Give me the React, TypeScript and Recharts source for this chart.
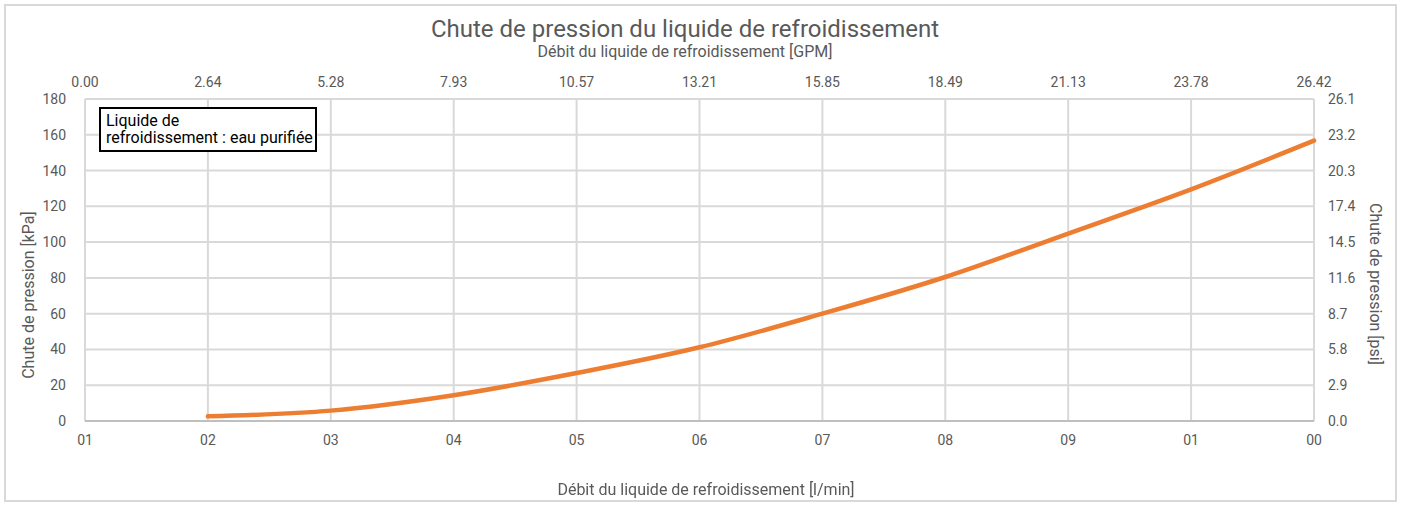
import React from 'react';
import { LineChart, Line, XAxis, YAxis, CartesianGrid } from 'recharts';

const flowLpm = [10, 20, 30, 40, 50, 60, 70, 80, 90, 100];
const dropKpa = [2.6, 5.8, 14.4, 26.8, 41.2, 60, 80.5, 104.8, 129.5, 156.7];

const lpmTicks = [0, 10, 20, 30, 40, 50, 60, 70, 80, 90, 100];
const lpmTickLabels = ['01', '02', '03', '04', '05', '06', '07', '08', '09', '01', '00'];
const gpmTickLabels = ['0.00', '2.64', '5.28', '7.93', '10.57', '13.21', '15.85', '18.49', '21.13', '23.78', '26.42'];
const kpaTicks = [0, 20, 40, 60, 80, 100, 120, 140, 160, 180];
const psiTicks = [0, 2.9, 5.8, 8.7, 11.6, 14.5, 17.4, 20.3, 23.2, 26.1];

const data = flowLpm.map((x, i) => ({ lpm: x, kpa: dropKpa[i] }));

const FONT = 'Roboto, "Noto Sans", sans-serif';
const TXT = '#595959';

export default function App() {
  const tickStyle = { fill: TXT, fontSize: 14, fontFamily: FONT };
  return (
    <div style={{ position: 'fixed', left: 0, top: 0, width: 1405, height: 506, background: '#fff', fontFamily: FONT }}>
      <div style={{ position: 'absolute', left: 4, top: 4, width: 1393, height: 498, border: '2px solid #d9d9d9', boxSizing: 'border-box' }} />
      <LineChart width={1405} height={506} data={data} margin={{ top: 69, right: 26, bottom: 45, left: 20 }}>
        <CartesianGrid stroke="#d9d9d9" strokeWidth={2} xAxisId="bottom" yAxisId="left" />
        <XAxis
          xAxisId="bottom"
          dataKey="lpm"
          type="number"
          domain={[0, 100]}
          ticks={lpmTicks}
          tickFormatter={(v: number) => lpmTickLabels[Math.round(v / 10)]}
          tick={tickStyle}
          tickLine={false}
          tickSize={0}
          tickMargin={14}
          axisLine={{ stroke: '#bfbfbf', strokeWidth: 2 }}
          height={40}
          interval={0}
        />
        <XAxis
          xAxisId="top"
          orientation="top"
          dataKey="lpm"
          type="number"
          domain={[0, 100]}
          ticks={lpmTicks}
          tickFormatter={(v: number) => gpmTickLabels[Math.round(v / 10)]}
          tick={tickStyle}
          tickLine={false}
          tickSize={0}
          tickMargin={12}
          axisLine={false}
          height={30}
          interval={0}
        />
        <YAxis
          yAxisId="left"
          type="number"
          domain={[0, 180]}
          ticks={kpaTicks}
          tick={tickStyle}
          tickLine={false}
          tickSize={0}
          tickMargin={19}
          axisLine={false}
          width={65}
          interval={0}
        />
        <YAxis
          yAxisId="right"
          orientation="right"
          type="number"
          domain={[0, 26.1]}
          allowDataOverflow
          ticks={psiTicks}
          tickFormatter={(v: number) => v.toFixed(1)}
          tick={tickStyle}
          tickLine={false}
          tickSize={0}
          tickMargin={14}
          axisLine={false}
          width={65}
          interval={0}
        />
        <Line
          xAxisId="bottom"
          yAxisId="left"
          dataKey="kpa"
          type="monotone"
          stroke="#ED7D31"
          strokeWidth={4.5}
          strokeLinecap="round"
          dot={false}
          activeDot={false}
          isAnimationActive={false}
        />
      </LineChart>
      <div style={{ position: 'absolute', left: 0, width: 1370, top: 13, textAlign: 'center', fontSize: 24, color: TXT, lineHeight: '32px' }}>
        Chute de pression du liquide de refroidissement
      </div>
      <div style={{ position: 'absolute', left: 0, width: 1370, top: 42, textAlign: 'center', fontSize: 16, color: TXT, lineHeight: '20px' }}>
        Débit du liquide de refroidissement [GPM]
      </div>
      <div style={{ position: 'absolute', left: 0, width: 1412, top: 480, textAlign: 'center', fontSize: 16, color: TXT, lineHeight: '20px' }}>
        Débit du liquide de refroidissement [l/min]
      </div>
      <div style={{ position: 'absolute', left: 29, top: 295, width: 0, height: 0 }}>
        <div style={{ position: 'absolute', left: 0, top: 0, transform: 'translate(-50%, -50%) rotate(-90deg)', whiteSpace: 'nowrap', fontSize: 16, color: TXT, lineHeight: '20px' }}>
          Chute de pression [kPa]
        </div>
      </div>
      <div style={{ position: 'absolute', left: 1375, top: 284, width: 0, height: 0 }}>
        <div style={{ position: 'absolute', left: 0, top: 0, transform: 'translate(-50%, -50%) rotate(90deg)', whiteSpace: 'nowrap', fontSize: 16, color: TXT, lineHeight: '20px' }}>
          Chute de pression [psi]
        </div>
      </div>
      <div style={{ position: 'absolute', left: 99, top: 107, width: 218, height: 45, border: '2px solid #000', boxSizing: 'border-box', background: '#fff', padding: '3px 0 0 5px', fontSize: 16, lineHeight: '18px', color: '#000', fontFamily: FONT, whiteSpace: 'nowrap' }}>
        <div>Liquide de</div>
        <div style={{ marginTop: -1 }}>refroidissement : eau purifiée</div>
      </div>
    </div>
  );
}
